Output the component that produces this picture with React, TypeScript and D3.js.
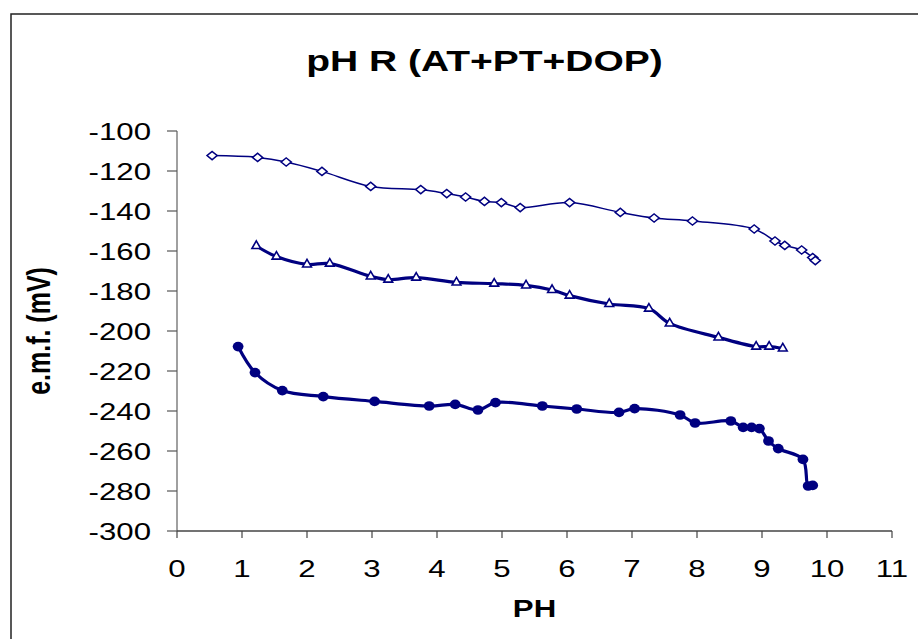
import React from 'react';
import * as d3 from 'd3';

// readings: pH vs e.m.f. (mV)
const diamondPH = [0.54, 1.24, 1.68, 2.23, 2.98, 3.75, 4.15, 4.44, 4.73, 4.99, 5.28, 6.04, 6.82, 7.34, 7.93, 8.88, 9.2, 9.35, 9.61, 9.78, 9.82];
const diamondEmf = [-112.3, -113.2, -115.5, -120.2, -127.7, -129.3, -131.3, -133, -135.2, -135.8, -138.3, -135.8, -140.7, -143.5, -145, -149, -155, -157.2, -159.5, -163.3, -164.8];

const trianglePH = [1.22, 1.53, 2.0, 2.35, 2.98, 3.25, 3.68, 4.3, 4.88, 5.37, 5.77, 6.04, 6.65, 7.26, 7.58, 8.33, 8.91, 9.11, 9.32];
const triangleEmf = [-157.5, -162.8, -166.7, -166.3, -172.7, -174.3, -173.3, -175.7, -176.3, -177.2, -179.5, -182.3, -186.5, -188.8, -196.2, -203.2, -207.8, -207.8, -208.7];

const circlePH = [0.94, 1.2, 1.62, 2.25, 3.04, 3.88, 4.28, 4.63, 4.9, 5.62, 6.15, 6.8, 7.04, 7.74, 7.97, 8.52, 8.71, 8.84, 8.96, 9.1, 9.25, 9.63, 9.71, 9.78];
const circleEmf = [-207.8, -220.8, -229.8, -232.8, -235.2, -237.5, -236.7, -239.5, -235.8, -237.5, -239, -240.7, -238.8, -242, -246, -245, -248.2, -248.2, -248.8, -255, -258.8, -264.2, -277.5, -277.2];

const xTicks = [0, 1, 2, 3, 4, 5, 6, 7, 8, 9, 10, 11];
const yTicks = [-300, -280, -260, -240, -220, -200, -180, -160, -140, -120, -100];

const W = 918;
const H = 639;
const NAVY = '#000080';
const FONT = 'Liberation Sans, Arial, sans-serif';
const SX = 1.3; // the picture's text is stretched sideways

export default function App() {
  const x = d3.scaleLinear().domain([0, 11]).range([177, 892]);
  const y = d3.scaleLinear().domain([-300, -100]).range([531, 131]);

  const toPts = (xs: number[], ys: number[]) => xs.map((v, i) => [v, ys[i]] as [number, number]);
  const line = d3
    .line<[number, number]>()
    .x((d) => x(d[0]))
    .y((d) => y(d[1]))
    .curve(d3.curveCatmullRom.alpha(0.5));

  const diamonds = toPts(diamondPH, diamondEmf);
  const triangles = toPts(trianglePH, triangleEmf);
  const circles = toPts(circlePH, circleEmf);

  const diamondSym = d3.symbol().type(d3.symbolDiamond2).size(60)();
  const triangleSym = d3.symbol().type(d3.symbolTriangle2).size(55)();

  return (
    <svg width={W} height={H} style={{ position: 'absolute', left: 0, top: 0, background: '#fff' }}>
      <rect x={0} y={0} width={W} height={H} fill="#fff" />
      <rect x={11} y={14} width={W + 20} height={H + 20} fill="none" stroke="#222" strokeWidth={1.5} />

      <text
        transform={`translate(${(x(0) + x(11)) / 2 - 50},71) scale(${SX},1)`}
        textAnchor="middle"
        fontFamily={FONT}
        fontWeight="bold"
        fontSize={30}
      >
        pH R (AT+PT+DOP)
      </text>

      {/* y axis */}
      <line x1={x(0)} x2={x(0)} y1={y(-100)} y2={y(-300)} stroke="#808080" strokeWidth={1.5} />
      {yTicks.map((t) => (
        <g key={t}>
          <line x1={x(0) - 10} x2={x(0)} y1={y(t)} y2={y(t)} stroke="#555" strokeWidth={1.2} />
          <text
            transform={`translate(${x(0) - 26},${y(t) + 8.5}) scale(${SX},1)`}
            textAnchor="end"
            fontFamily={FONT}
            fontSize={24}
          >
            {t}
          </text>
        </g>
      ))}

      {/* x axis */}
      <line x1={x(0)} x2={x(11)} y1={y(-300)} y2={y(-300)} stroke="#444" strokeWidth={1.5} />
      {xTicks.map((t) => (
        <g key={t}>
          <line x1={x(t)} x2={x(t)} y1={y(-300)} y2={y(-300) + 7} stroke="#444" strokeWidth={1.2} />
          <text
            transform={`translate(${x(t)},577) scale(${SX},1)`}
            textAnchor="middle"
            fontFamily={FONT}
            fontSize={24}
          >
            {t}
          </text>
        </g>
      ))}

      <text
        transform={`translate(${(x(0) + x(11)) / 2},617) scale(${SX},1)`}
        textAnchor="middle"
        fontFamily={FONT}
        fontWeight="bold"
        fontSize={24}
      >
        PH
      </text>
      <text
        transform={`translate(50,331) rotate(-90) scale(1,${SX})`}
        textAnchor="middle"
        fontFamily={FONT}
        fontWeight="bold"
        fontSize={25}
      >
        e.m.f. (mV)
      </text>

      {/* series */}
      <path d={line(diamonds) ?? ''} fill="none" stroke={NAVY} strokeWidth={1.5} />
      <path d={line(triangles) ?? ''} fill="none" stroke={NAVY} strokeWidth={3.2} />
      <path d={line(circles) ?? ''} fill="none" stroke={NAVY} strokeWidth={3.2} />

      {diamonds.map((d, i) => (
        <path
          key={`d${i}`}
          d={diamondSym ?? ''}
          transform={`translate(${x(d[0])},${y(d[1])}) scale(1.05,0.85)`}
          fill="#fff"
          stroke={NAVY}
          strokeWidth={1.6}
        />
      ))}
      {triangles.map((d, i) => (
        <path
          key={`t${i}`}
          d={triangleSym ?? ''}
          transform={`translate(${x(d[0])},${y(d[1])})`}
          fill="#fff"
          stroke={NAVY}
          strokeWidth={1.6}
        />
      ))}
      {circles.map((d, i) => (
        <ellipse key={`c${i}`} cx={x(d[0])} cy={y(d[1])} rx={5.4} ry={4.8} fill={NAVY} />
      ))}
    </svg>
  );
}
